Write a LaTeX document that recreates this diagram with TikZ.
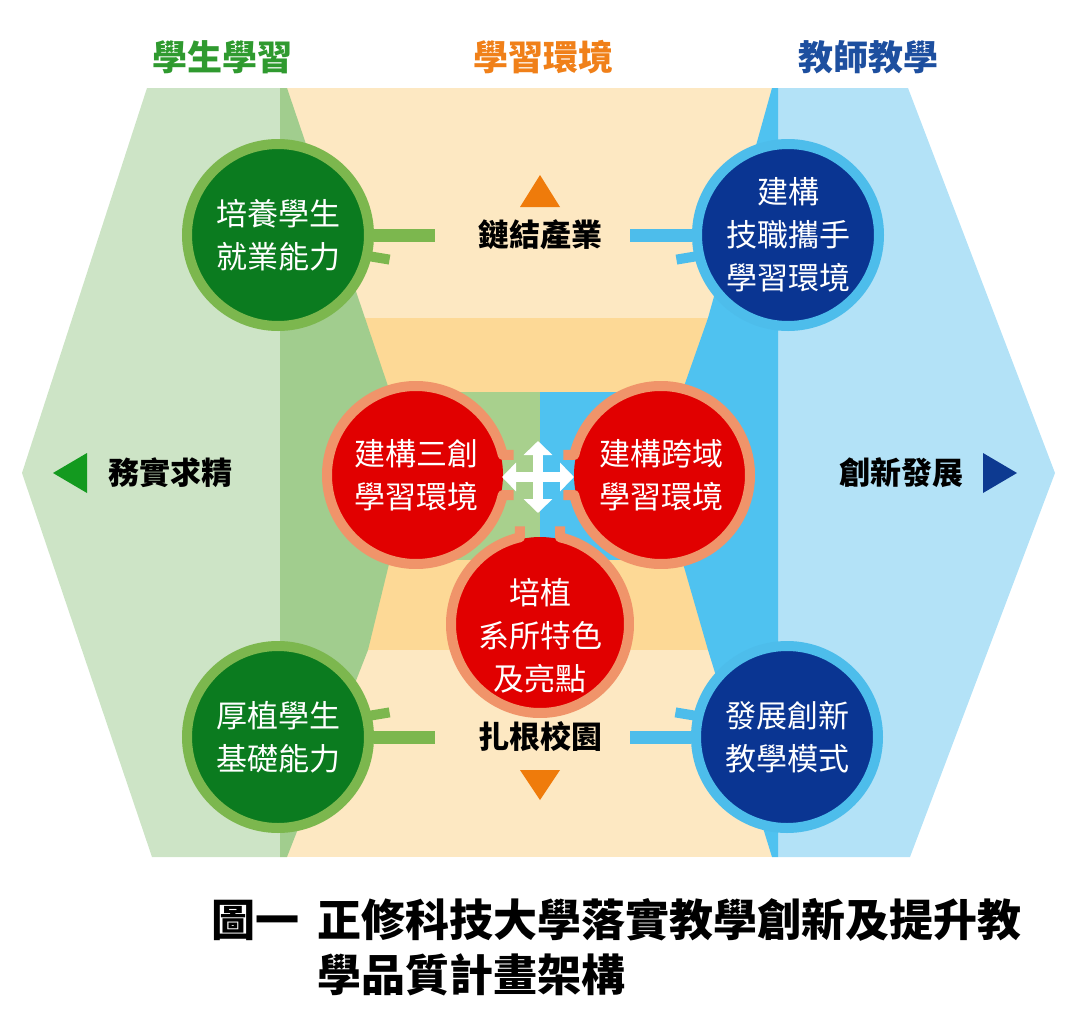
\documentclass[tikz,border=0pt]{standalone}
\usepackage{fontspec}
\newfontfamily\cjk{Noto Sans CJK TC}
\usetikzlibrary{arrows.meta}

\definecolor{lgreen}{HTML}{CDE4C6}
\definecolor{dgreen}{HTML}{A1CD8E}
\definecolor{cgreen}{HTML}{A8D08D}
\definecolor{lorange}{HTML}{FDE8C2}
\definecolor{dorange}{HTML}{FDD996}
\definecolor{lblue}{HTML}{B3E2F7}
\definecolor{dblue}{HTML}{4FC2F0}
\definecolor{ggreen}{HTML}{0B7B1F}
\definecolor{gring}{HTML}{7CB74E}
\definecolor{navy}{HTML}{0A3592}
\definecolor{bring}{HTML}{4DBDEB}
\definecolor{rfill}{HTML}{E10000}
\definecolor{rring}{HTML}{F0946A}
\definecolor{hgreen}{HTML}{2F9A2F}
\definecolor{horange}{HTML}{F08019}
\definecolor{hblue}{HTML}{1D4F9F}
\definecolor{tgreen}{HTML}{139A1F}
\definecolor{torange}{HTML}{EF7B0B}
\definecolor{tblue}{HTML}{0D3A91}

\begin{document}
\begin{tikzpicture}[x=1pt,y=-1pt,
    ctext/.style={text=white,align=center,font=\cjk\fontsize{31}{43}\selectfont},
    gball/.style={circle,ctext,fill=ggreen,draw=gring,line width=10pt,minimum size=182pt,inner sep=0pt},
    bball/.style={gball,fill=navy,draw=bring},
    rball/.style={circle,ctext,fill=rfill,minimum size=174pt,inner sep=0pt},
    rrim/.style={draw=rring,line width=10pt,line join=round},
    gbar/.style={draw=gring,line width=13pt},
    bbar/.style={draw=bring,line width=13pt},
    tag/.style={font=\cjk\bfseries\fontsize{31}{31}\selectfont,inner sep=0pt},
    head/.style={font=\cjk\bfseries\fontsize{35}{35}\selectfont,inner sep=0pt},
    figcap/.style={font=\cjk\bfseries\fontsize{44}{55}\selectfont,inner sep=0pt,anchor=west,align=left},
    hubarrow/.style={draw=white,line width=10pt,{Triangle[width=28pt,length=14pt]}-{Triangle[width=28pt,length=14pt]}}
]
    \useasboundingbox (0,0) rectangle (1080,1015);

    % backdrop
    \fill[lgreen] (147,88) -- (280,88) -- (280,857) -- (152,857) -- (22,473) -- cycle;
    \fill[lblue] (778,88) -- (908,88) -- (1055,473) -- (910,857) -- (778,857) -- cycle;
    \fill[lorange] (280,88) rectangle (778,857);
    \fill[dorange] (280,318) rectangle (778,650);
    \fill[cgreen] (400,392) rectangle (540,560);
    \fill[dblue] (540,392) rectangle (680,560);
    \fill[dgreen] (280,88) -- (287,88) -- (365,318) -- (390,392) -- (400,473) -- (390,560) -- (368,650) -- (287,857) -- (280,857) -- cycle;
    \fill[dblue] (778,88) -- (772,88) -- (708,318) -- (682,392) -- (672,473) -- (682,560) -- (708,650) -- (772,857) -- (778,857) -- cycle;

    \foreach \t/\x/\c [count=\i] in {學生學習/222/hgreen, 學習環境/543/horange, 教師教學/868/hblue} {
        \node[head,text=\c] (head\i) at (\x,57) {\t};
    }

    % outer circles
    \node[gball] (ga) at (278,235) {培養學生\\就業能力};
    \node[gball] (gb) at (278,737) {厚植學生\\基礎能力};
    \node[bball] (ba) at (788,235) {建構\\技職攜手\\學習環境};
    \node[bball] (bb) at (787,737) {發展創新\\教學模式};

    \node[tag] (link) at (540,235) {鏈結產業};
    \node[tag] (root) at (540,737) {扎根校園};

    \draw[gbar,shorten >=43pt] (ga) -- (link);
    \draw[bbar,shorten <=28pt] (link) -- (ba);
    \draw[gbar,shorten >=43pt] (gb) -- (root);
    \draw[bbar,shorten <=28pt] (root) -- (bb);

    \draw[gbar,line width=10pt] (ga.-13) ++(-6,-1) -- ++(24,4);
    \draw[gbar,line width=10pt] (gb.13) ++(-6,1) -- ++(24,-4);
    \draw[bbar,line width=10pt] (ba.193) ++(6,-1) -- ++(-24,4);
    \draw[bbar,line width=10pt] (bb.167) ++(6,1) -- ++(-24,-4);

    \fill[torange] (540,175) -- (560,207) -- (520,207) -- cycle;
    \fill[torange] (520,770) -- (560,770) -- (540,800) -- cycle;

    % inner circles
    \node[rball] (rl) at (416,475) {建構三創\\學習環境};
    \node[rball] (rr) at (661,475) {建構跨域\\學習環境};
    \node[rball] (rb) at (540,624) {};
    \node[ctext] (rbt) at ([yshift=-12pt]rb.center) {培植\\系所特色\\及亮點};

    \draw[rrim] (rl.center) ++(13:89) ++(11,0) -- ++(-11,0) arc[start angle=13,end angle=347,radius=89] -- ++(11,0);
    \draw[rrim] (rr.center) ++(193:89) ++(-11,0) -- ++(11,0) arc[start angle=193,end angle=527,radius=89] -- ++(-11,0);
    \draw[rrim] (rb.center) ++(283:89) ++(0,-11) -- ++(0,11) arc[start angle=283,end angle=617,radius=89] -- ++(0,-11);

    \coordinate (hub) at (538,477);
    \draw[hubarrow] (hub) ++(0,-36) -- ++(0,72);
    \draw[hubarrow] (hub) ++(-36,0) -- ++(72,0);

    % sides
    \fill[tgreen] (53,473) -- (87,453) -- (87,493) -- cycle;
    \fill[tblue] (1017,473) -- (983,453) -- (983,493) -- cycle;
    \node[tag] (side-l) at (170,473) {務實求精};
    \node[tag] (side-r) at (901,473) {創新發展};

    % caption
    \node[figcap] (fig) at (211,920) {圖一};
    \node[figcap] (title) at (317,947.5) {正修科技大學落實教學創新及提升教\\學品質計畫架構};
\end{tikzpicture}
\end{document}
